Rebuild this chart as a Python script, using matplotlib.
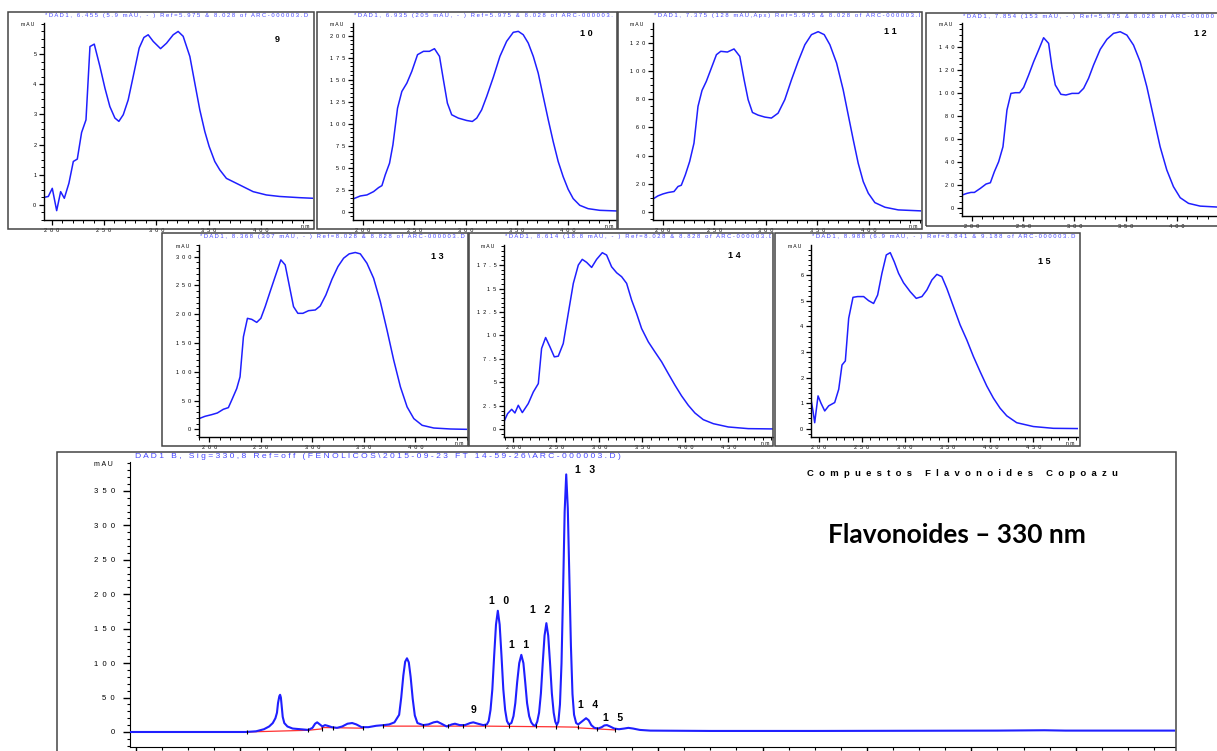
import numpy as np
import matplotlib.pyplot as plt
from matplotlib.patches import Rectangle
from matplotlib.transforms import Bbox
from matplotlib.ticker import MultipleLocator, FixedLocator, FuncFormatter

plt.rcParams['font.family'] = ['Liberation Sans', 'DejaVu Sans']

########### data #########

# UV spectra (nm, mAU) for peaks 9..15
spec_9 = [(192.7,0.25),(196.8,0.28),(200.6,0.55),(204.8,-0.19),(208.6,0.44),(212.1,0.22),(216.5,0.72),(220.7,1.44),
          (224.5,1.52),(228.6,2.40),(232.8,2.82),(236.6,5.25),(240.7,5.33),(246.1,4.59),(250.9,3.87),(255.6,3.26),
          (260.4,2.88),(264.2,2.77),(268.4,2.99),(273.1,3.48),(277.9,4.26),(283.6,5.20),(288.1,5.55),(292.2,5.64),
          (297.0,5.42),(304.0,5.18),(309.7,5.36),(316.1,5.64),(320.8,5.75),(325.6,5.59),(332.0,4.92),(336.7,4.04),
          (341.5,3.15),(346.3,2.43),(350.4,1.94),(355.8,1.44),(360.6,1.16),(366.9,0.88),(379.7,0.66),(392.4,0.44),
          (405.1,0.33),(417.8,0.28),(436.9,0.24),(449.6,0.22)]
spec_10 = [(190.3,14.4),(197.4,17.8),(203.9,19.0),(210.4,22.8),(215.2,27.3),(218.5,29.6),(221.7,41.7),(225.9,55.0),
           (229.2,75.9),(233.7,117.6),(237.9,136.6),(242.8,146.1),(247.6,159.4),(253.2,178.4),(259.0,182.2),
           (264.8,182.2),(269.7,185.2),(274.6,176.5),(278.4,149.9),(282.3,123.3),(286.5,110.1),(293.0,106.3),
           (301.1,103.6),(306.6,102.5),(310.9,106.3),(315.7,115.7),(320.6,130.9),(327.1,152.9),(333.5,176.5),
           (340.0,193.5),(346.5,203.8),(351.4,204.9),(356.2,201.1),(361.1,191.6),(366.0,176.5),(370.8,157.5),
           (375.7,130.9),(380.6,104.4),(385.4,79.7),(390.3,56.9),(395.1,39.8),(400.0,25.4),(404.9,14.8),
           (411.3,7.2),(419.4,3.4),(430.8,1.5),(447.0,0.8)]
spec_11 = [(190.3,9.0),(195.1,11.2),(200.0,12.6),(204.9,13.6),(210.7,14.3),(214.6,17.9),(217.8,18.8),(221.7,26.2),
           (225.9,35.7),(230.1,48.8),(234.0,75.0),(237.9,86.4),(242.1,92.9),(247.0,102.4),(251.9,111.9),
           (256.1,114.3),(262.6,113.8),(269.0,116.0),(274.6,110.7),(278.8,94.0),(282.7,79.8),(286.9,70.7),
           (292.4,68.8),(298.9,67.4),(305.3,66.7),(311.8,70.2),(318.3,79.8),(324.8,94.0),(331.3,107.1),
           (337.8,119.0),(344.2,126.2),(350.7,128.3),(356.6,126.2),(362.1,119.0),(368.6,106.0),(375.0,86.9),
           (379.9,69.0),(384.8,51.2),(389.6,34.5),(394.5,21.4),(399.4,13.1),(405.8,6.4),(415.6,3.1),
           (428.5,1.2),(450.6,0.5)]
spec_12 = [(190.2,11.0),(195.1,12.5),(199.0,13.3),(202.3,13.3),(208.1,16.8),(213.7,20.6),(217.9,21.7),(221.8,31.3),
           (226.0,40.0),(230.2,53.0),(234.1,84.9),(238.0,99.4),(242.3,100.0),(246.5,100.0),(250.4,104.6),
           (255.3,115.4),(260.2,127.0),(265.0,137.1),(269.9,147.8),(274.8,142.9),(278.0,122.6),(281.3,106.7),
           (286.8,98.6),(291.7,98.0),(297.6,99.4),(304.1,99.4),(309.0,103.8),(313.8,112.5),(318.7,124.1),
           (325.2,137.7),(331.7,146.4),(338.2,151.6),(344.7,153.0),(351.2,150.1),(357.7,141.4),(364.2,126.9),
           (370.7,105.2),(377.2,79.1),(383.7,53.0),(390.2,32.8),(396.7,18.3),(403.3,8.7),(411.4,3.8),
           (422.8,1.4),(439.3,0.6),(449.0,0.5)]
spec_13 = [(190.0,18.6),(195.8,22.6),(202.3,25.5),(207.8,28.4),(213.6,34.8),(218.5,37.7),(222.4,53.4),(226.6,70.8),
           (229.8,91.1),(233.1,160.7),(237.0,192.7),(241.2,190.9),(246.0,185.7),(250.0,192.7),(254.2,213.0),
           (259.0,239.1),(263.9,265.2),(269.4,294.2),(273.6,285.5),(277.8,247.8),(281.7,213.0),(285.9,201.4),
           (290.8,201.4),(296.3,206.0),(302.8,207.2),(307.6,214.1),(313.1,233.3),(319.0,260.5),(324.8,282.6),
           (330.3,297.1),(335.7,304.6),(341.6,307.0),(346.5,304.6),(352.9,288.4),(359.4,262.3),(365.9,221.7),
           (372.4,172.3),(378.9,120.1),(385.4,73.7),(391.9,38.9),(398.4,18.6),(406.5,7.0),(417.8,2.3),
           (434.0,0.6),(450.0,0.0)]
spec_14 = [(189.5,0.89),(193.4,1.67),(198.1,2.13),(201.9,1.74),(205.8,2.56),(210.5,1.78),(217.4,2.74),(223.3,3.98),
           (229.1,4.87),(232.9,8.61),(237.6,9.78),(242.6,8.79),(247.7,7.72),(252.3,7.79),(258.1,9.14),
           (263.9,12.34),(269.8,15.55),(275.6,17.50),(280.2,18.11),(285.3,17.79),(291.1,17.25),(296.9,18.11),
           (303.5,18.82),(308.5,18.57),(314.3,17.32),(320.2,16.68),(326.0,16.26),(331.8,15.55),(337.6,13.77),
           (343.4,12.34),(349.2,10.74),(357.0,9.32),(364.7,8.25),(372.5,7.19),(380.2,5.94),(388.0,4.70),
           (395.7,3.56),(403.5,2.56),(411.2,1.74),(420.9,1.03),(432.6,0.60),(450.0,0.25),(473.3,0.07),(502.0,0.04)]
spec_15 = [(191.1,1.12),(193.4,0.67),(195.3,0.23),(199.2,1.28),(202.7,0.99),(207.0,0.69),(211.6,0.89),(218.6,1.02),
           (223.3,1.54),(227.1,2.49),(231.0,2.65),(234.9,4.32),(239.9,5.14),(245.3,5.17),(252.3,5.17),(258.1,5.01),
           (263.9,4.90),(268.6,5.23),(273.6,6.08),(278.7,6.80),(283.3,6.89),(288.0,6.53),(293.0,6.08),(298.8,5.71),
           (306.6,5.36),(313.6,5.10),(320.2,5.17),(326.0,5.43),(331.8,5.82),(337.6,6.04),(343.4,5.95),(349.2,5.49),
           (357.0,4.77),(364.7,4.06),(372.5,3.47),(380.2,2.82),(388.0,2.23),(395.7,1.67),(403.5,1.19),(411.2,0.80),
           (419.0,0.50),(430.6,0.23),(450.0,0.08),(473.3,0.01),(502.0,0.0)]

headers = {
    '9':  '*DAD1, 6.455 (5.9 mAU, - ) Ref=5.975 & 8.028 of ARC-000003.D',
    '10': '*DAD1, 6.935 (205 mAU, - ) Ref=5.975 & 8.028 of ARC-000003.D',
    '11': '*DAD1, 7.375 (128 mAU,Apx) Ref=5.975 & 8.028 of ARC-000003.D',
    '12': '*DAD1, 7.854 (153 mAU, - ) Ref=5.975 & 8.028 of ARC-000003.D',
    '13': '*DAD1, 8.368 (307 mAU, - ) Ref=8.028 & 8.828 of ARC-000003.D',
    '14': '*DAD1, 8.614 (18.8 mAU, - ) Ref=8.028 & 8.828 of ARC-000003.D',
    '15': '*DAD1, 8.988 (6.9 mAU, - ) Ref=8.841 & 9.188 of ARC-000003.D',
}

# chromatogram at 330 nm (min, mAU)
chrom = [(-0.11,0),(2.10,0),(2.30,1),(2.45,4),(2.55,8),(2.62,13),(2.67,20),(2.70,28),(2.72,42),(2.745,52),(2.76,54),
         (2.775,50),(2.79,38),(2.81,22),(2.84,13),(2.90,8),(3.00,5),(3.15,4),(3.30,3),(3.38,6),(3.43,12),(3.47,14),
         (3.52,11),(3.57,8),(3.62,10),(3.67,9),(3.75,7),(3.85,6),(3.95,8),(4.05,12),(4.14,13),(4.22,11),(4.32,7),
         (4.45,7),(4.60,9),(4.75,10),(4.85,11),(4.95,14),(5.04,25),(5.08,50),(5.12,82),(5.155,102),(5.19,107),
         (5.225,101),(5.26,80),(5.30,48),(5.34,24),(5.39,13),(5.50,10),(5.60,11),(5.70,14),(5.77,15),(5.85,12),
         (5.95,8),(6.05,11),(6.11,12),(6.20,10),(6.30,10),(6.40,13),(6.46,14),(6.55,12),(6.65,10),
         (6.72,11),(6.755,16),(6.79,32),(6.825,62),(6.86,111),(6.895,156),(6.93,176),(6.965,156),(7.00,111),
         (7.035,62),(7.07,32),(7.105,16),(7.14,11),
         (7.19,13),(7.23,23),(7.265,42),(7.30,72),(7.34,100),(7.38,112),(7.42,100),(7.455,72),(7.49,42),(7.53,23),
         (7.57,14),(7.61,10),(7.65,9),
         (7.685,15),(7.72,28),(7.755,56),(7.79,100),(7.825,140),(7.86,158),(7.895,140),(7.93,100),(7.965,56),
         (8.00,28),(8.03,15),(8.06,10),
         (8.09,15),(8.12,40),(8.15,100),(8.18,205),(8.21,320),(8.24,374),(8.27,325),(8.30,225),(8.33,125),
         (8.36,55),(8.39,25),(8.43,13),(8.47,11),
         (8.52,14),(8.57,17),(8.62,20),(8.67,17),(8.72,10),(8.78,6),(8.85,5),(8.92,7),(8.97,9.5),(9.02,10),(9.08,8),
         (9.16,5),(9.25,4),(9.35,5),(9.43,6),(9.52,5),(9.65,3),(9.85,2),(11.0,1.5),(13.0,1.5),(15.0,1.8),
         (16.5,2.0),(17.4,2.5),(17.6,2.2),(17.8,2.0),(19.9,2.0)]

# integration baseline (red) and peak boundary marks
base_red = [(2.12,0),(3.30,2.5),(3.56,4.5),(np.nan,np.nan),(3.56,6.5),(4.35,5.5),(np.nan,np.nan),
            (4.74,8.5),(6.69,8.5),(8.04,7.5),(8.47,7),(np.nan,np.nan),(8.47,6),(9.18,3)]
marks_t = [2.12, 3.30, 3.56, 3.78, 4.35, 4.74, 5.50, 5.98, 6.27, 6.69, 7.15, 7.66, 8.04, 8.47, 8.83, 9.18]
marks_y = [0, 2.5, 5, 6, 5.5, 8.5, 9, 9, 9, 8.5, 8.5, 8, 7.5, 7, 5, 3]

# labelled peaks
peak_id = ['9', '10', '11', '12', '13', '14', '15']
peak_rt = [6.46, 6.93, 7.38, 7.86, 8.24, 8.62, 9.02]
peak_h = [14, 176, 112, 158, 374, 20, 10]

chrom_title = 'DAD1 B, Sig=330,8 Ref=off (FENOLICOS\\2015-09-23 FT 14-59-26\\ARC-000003.D)'

########### figure #########
W, H = 1217, 751
fig = plt.figure(figsize=(W/100, H/100), dpi=100)
BLUE = '#1f1fff'
HDR = '#4646ff'


def fx(x):
    return x / W


def fy(y):
    return 1 - y / H


def px_axes(x0, y0, x1, y1):
    return fig.add_axes([fx(x0), fy(y1), (x1-x0)/W, (y1-y0)/H])


def px_box(x0, y0, x1, y1):
    fig.patches.append(Rectangle((fx(x0), fy(y1)), (x1-x0)/W, (y1-y0)/H, transform=fig.transFigure,
                                 fill=False, ec='#444444', lw=1.1, zorder=0))


def spaced(s, gap=1):
    return (' '*gap).join(s)


def fmt(gap):
    return FuncFormatter(lambda v, p: spaced('%g' % v, gap))


panels = [
    dict(n='9', d=spec_9, box=(8,12,314,229), ax=(44,23,313,220), xl=(192.7,449.6), yl=(-0.5,6.03),
         ymaj=1, ytop=5, ymin=0.25, xtop=400, num=(277,40)),
    dict(n='10', d=spec_10, box=(317,12,617,229), ax=(353,23,617,220), xl=(190.3,447.6), yl=(-9.5,214.4),
         ymaj=25, ytop=200, ymin=5, xtop=400, num=(586,33)),
    dict(n='11', d=spec_11, box=(618,12,922,229), ax=(653,23,921,220), xl=(190.3,450.6), yl=(-6,134.5),
         ymaj=20, ytop=120, ymin=5, xtop=400, num=(890,31)),
    dict(n='12', d=spec_12, box=(926,13,1240,226), ax=(962,23,1227,216), xl=(190.2,449), yl=(-7.2,160.6),
         ymaj=20, ytop=140, ymin=5, xtop=400, num=(1200,34)),
    dict(n='13', d=spec_13, box=(162,233,468,446), ax=(199,245,467,437), xl=(190,450), yl=(-13.3,320),
         ymaj=50, ytop=300, ymin=10, xtop=400, num=(437,257)),
    dict(n='14', d=spec_14, box=(469,233,773,446), ax=(504,245,773,437), xl=(189.2,502), yl=(-0.82,19.64),
         ymaj=2.5, ytop=17.5, ymin=0.5, xtop=450, num=(734,255)),
    dict(n='15', d=spec_15, box=(775,233,1080,446), ax=(811,245,1078,437), xl=(191,502), yl=(-0.33,7.19),
         ymaj=1, ytop=6, ymin=0.2, xtop=450, num=(1044,261)),
]

for p in panels:
    px_box(*p['box'])
    ax = px_axes(*p['ax'])
    wl, ab = np.array(p['d']).T
    ax.plot(wl, ab, color=BLUE, lw=1.1)
    ax.set_xlim(*p['xl'])
    ax.set_ylim(*p['yl'])
    for s in ('top', 'right'):
        ax.spines[s].set_visible(False)
    for s in ('left', 'bottom'):
        ax.spines[s].set_linewidth(1.0)
    ax.xaxis.set_major_locator(FixedLocator(np.arange(200, p['xtop']+1, 50)))
    ax.xaxis.set_minor_locator(MultipleLocator(10))
    ax.yaxis.set_major_locator(FixedLocator(np.arange(0, p['ytop']+1e-6, p['ymaj'])))
    ax.yaxis.set_minor_locator(MultipleLocator(p['ymin']))
    ax.xaxis.set_major_formatter(fmt(2))
    ax.yaxis.set_major_formatter(fmt(2))
    ax.tick_params(which='major', length=3.5, width=0.9, labelsize=4, pad=2)
    ax.tick_params(which='minor', length=2, width=0.7)
    ax.annotate(spaced('mAU'), xy=(0, 1), xycoords='axes fraction', xytext=(-10, -2),
                textcoords='offset pixels', ha='right', va='center', fontsize=3.6)
    if p['n'] != '12':
        ax.annotate(spaced('nm'), xy=(1, 0), xycoords='axes fraction', xytext=(-4, -4),
                    textcoords='offset pixels', ha='right', va='top', fontsize=3.6)
    # header line, cut at the right edge of its frame like the instrument printout
    bx0, by0, bx1, by1 = p['box']
    right = min(bx1, W) - 2
    hdr = fig.text(fx(p['ax'][0] + 1), fy(by0 + 3.5), spaced(headers[p['n']]), fontsize=4.2, color=HDR,
                   ha='left', va='center')
    hdr.set_clip_box(Bbox.from_extents(bx0, H - by1, right, H - by0))
    hdr.set_clip_on(True)
    fig.text(fx(p['num'][0]), fy(p['num'][1]), spaced(p['n'], 1), fontsize=6.5, fontweight='bold',
             ha='center', va='center')

########### chromatogram #########
px_box(57, 452, 1176, 770)
axc = px_axes(130, 462, 1175, 747)
t, mau = np.array(chrom).T
axc.plot(t, mau, color=BLUE, lw=1.5, zorder=3)
bt, by = np.array(base_red).T
axc.plot(bt, by, color='#ff3030', lw=0.9, zorder=2)
axc.plot(marks_t, marks_y, ls='none', marker='|', ms=3.5, mew=0.8, color='black', zorder=4)
axc.set_xlim(-0.115, 19.9)
axc.set_ylim(-21.8, 392)
for s in ('top', 'right'):
    axc.spines[s].set_visible(False)
axc.xaxis.set_major_locator(MultipleLocator(2))
axc.xaxis.set_minor_locator(MultipleLocator(0.5))
axc.yaxis.set_major_locator(FixedLocator(np.arange(0, 351, 50)))
axc.yaxis.set_minor_locator(MultipleLocator(10))
axc.yaxis.set_major_formatter(fmt(2))
axc.tick_params(axis='x', labelbottom=False)
axc.tick_params(which='major', length=5, width=1.0, labelsize=5.5, pad=6)
axc.tick_params(which='minor', length=2.5, width=0.8)
axc.annotate(spaced('mAU'), xy=(0, 1), xycoords='axes fraction', xytext=(-27, -2),
             textcoords='offset pixels', ha='center', va='center', fontsize=5)

lab_off = {'9': (0, 12), '10': (1, 10), '11': (-2, 10), '12': (-6, 13), '13': (19, 4), '14': (2, 13), '15': (6, 7)}
for pid, rt, h in zip(peak_id, peak_rt, peak_h):
    axc.annotate(spaced(pid, 3), xy=(rt, h), xytext=lab_off[pid], textcoords='offset pixels',
                 ha='center', va='center', fontsize=7.5, fontweight='bold')

fig.text(fx(135), fy(456.5), spaced(chrom_title), fontsize=6.1, color=HDR, ha='left', va='center')
fig.text(fx(962), fy(474), spaced('Compuestos Flavonoides Copoazu', 2), fontsize=6.8, fontweight='bold',
         ha='center', va='center')
fig.text(fx(957), fy(535), 'Flavonoides \u2013 330 nm', fontsize=19, fontweight='bold',
         family=['Lato', 'DejaVu Sans'], ha='center', va='center')

fig.savefig('out.png', dpi=100)
